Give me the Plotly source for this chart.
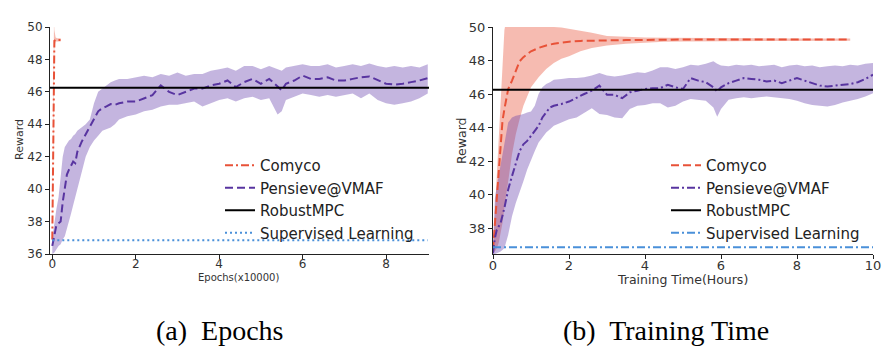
import plotly.graph_objects as go

# the page body adds an 8px margin, so the figure is drawn 16px smaller and
# every reference pixel position is shifted by that margin
W, H = 896, 356
PAD = 8
FW, FH = W - 2 * PAD, H - 2 * PAD

# ---- (a) Epochs (x10000) ----
ep_comyco_x = [0, 0.01, 0.02, 0.03, 0.04, 0.05, 0.08, 0.12, 0.16, 0.2]
ep_comyco_mean = [36.9, 39.5, 43.0, 46.5, 48.7, 49.15, 49.2, 49.2, 49.2, 49.2]
ep_comyco_upper = [37.0, 42.0, 47.0, 50.2, 50.3, 49.8, 49.35, 49.3, 49.3, 49.3]
ep_comyco_lower = [36.8, 37.5, 39.5, 43.0, 46.5, 48.8, 49.1, 49.1, 49.1, 49.1]

ep_x = [0, 0.05, 0.1, 0.15, 0.2, 0.25, 0.3, 0.35, 0.4, 0.45, 0.5, 0.55, 0.6, 0.7, 0.8,
        0.9, 1.0, 1.1, 1.2, 1.3, 1.4, 1.5, 1.6, 1.8, 2.0, 2.2, 2.4, 2.6, 2.8, 3.0, 3.2,
        3.4, 3.6, 3.8, 4.0, 4.2, 4.4, 4.6, 4.8, 5.0, 5.2, 5.4, 5.5, 5.6, 5.8, 6.0, 6.2,
        6.4, 6.6, 6.8, 7.0, 7.2, 7.4, 7.6, 7.8, 8.0, 8.2, 8.4, 8.6, 8.8, 9.0]
ep_pensieve_mean = [36.5, 37.2, 37.8, 37.9, 38.0, 39.2, 40.0, 40.9, 41.2, 41.5, 41.7, 41.6,
                    42.3, 42.9, 43.4, 43.9, 44.3, 44.8, 45.0, 45.1, 45.25, 45.2, 45.3, 45.4,
                    45.4, 45.6, 45.8, 46.4, 46.0, 45.8, 46.0, 46.2, 46.2, 46.4, 46.5, 46.7,
                    46.3, 46.6, 46.8, 46.5, 46.8, 46.3, 46.1, 46.5, 46.7, 47.0, 46.8, 46.8,
                    46.9, 46.7, 46.7, 46.8, 46.9, 46.95, 46.7, 46.5, 46.45, 46.5, 46.6, 46.7,
                    46.85]
ep_pensieve_upper = [37.0, 38.0, 38.8, 39.5, 41.0, 42.0, 42.6, 42.8, 43.0, 43.1, 43.3, 43.4,
                     43.6, 43.8, 44.0, 44.3, 45.3, 46.0, 46.2, 46.4, 46.6, 46.7, 46.8, 46.8,
                     46.9, 47.0, 46.9, 47.1, 47.0, 47.2, 47.0, 47.1, 47.1, 47.3, 47.4, 47.5,
                     47.3, 47.6, 47.6, 47.4, 47.6, 47.4, 47.3, 47.5, 47.6, 47.7, 47.6, 47.6,
                     47.7, 47.5, 47.6, 47.7, 47.6, 47.75, 47.6, 47.5, 47.6, 47.5, 47.6, 47.5,
                     47.7]
ep_pensieve_lower = [36.0, 36.1, 36.3, 36.5, 36.6, 36.9, 37.1, 37.5, 38.0, 38.5, 39.0, 39.4,
                     39.9, 41.0, 42.0, 42.6, 43.0, 43.3, 43.6, 43.7, 43.8, 44.0, 44.3, 44.5,
                     44.6, 44.8, 44.9, 45.1, 45.2, 45.2, 45.3, 45.4, 45.1, 45.3, 45.5, 45.6,
                     45.4, 45.6, 45.7, 45.5, 45.6, 44.6, 44.8, 45.5, 45.7, 45.9, 45.8, 45.7,
                     45.8, 45.7, 45.8, 45.9, 45.6, 45.9, 45.5, 45.3, 45.2, 45.3, 45.4, 45.6,
                     45.9]
ep_span = [0, 9.0]

# ---- (b) Training time (hours) ----
hr_comyco_x = [0, 0.05, 0.1, 0.15, 0.2, 0.25, 0.3, 0.35, 0.4, 0.5, 0.6, 0.7, 0.8, 0.9, 1.0,
               1.2, 1.4, 1.6, 1.8, 2.0, 2.3, 2.6, 3.0, 3.5, 4.0, 4.5, 5.0, 6.0, 7.0, 8.0, 9.0, 9.4]
hr_comyco_mean = [36.7, 38.2, 39.9, 41.3, 42.6, 44.4, 45.1, 45.8, 46.3, 46.8, 47.4, 47.95,
                  48.2, 48.4, 48.55, 48.75, 48.9, 49.0, 49.08, 49.12, 49.17, 49.2, 49.2,
                  49.22, 49.24, 49.25, 49.25, 49.25, 49.24, 49.25, 49.25, 49.25]
hr_comyco_upper = [36.8, 39.0, 41.0, 43.0, 45.5, 47.8, 49.8, 50.5, 50.8, 50.8, 50.8, 50.8,
                   50.8, 50.8, 50.7, 50.5, 50.2, 50.0, 49.97, 49.9, 49.8, 49.65, 49.46,
                   49.4, 49.38, 49.36, 49.35, 49.33, 49.32, 49.32, 49.32, 49.32]
hr_comyco_lower = [36.5, 36.6, 36.8, 37.1, 37.6, 38.3, 39.2, 40.0, 40.9, 42.4, 43.6, 44.5,
                   45.3, 45.9, 46.4, 47.0, 47.5, 47.85, 48.1, 48.25, 48.55, 48.75, 48.9,
                   49.0, 49.08, 49.12, 49.14, 49.16, 49.17, 49.18, 49.18, 49.18]

hr_x = [0, 0.05, 0.1, 0.2, 0.3, 0.4, 0.5, 0.6, 0.7, 0.8, 0.9, 1.0, 1.1, 1.2, 1.3, 1.4, 1.5,
        1.6, 1.8, 2.0, 2.2, 2.4, 2.6, 2.8, 3.0, 3.2, 3.4, 3.6, 3.8, 4.0, 4.2, 4.4, 4.6, 4.8,
        5.0, 5.2, 5.4, 5.6, 5.8, 5.9, 6.0, 6.2, 6.4, 6.6, 6.8, 7.0, 7.2, 7.4, 7.6, 7.8, 8.0,
        8.2, 8.4, 8.6, 8.8, 9.0, 9.2, 9.4, 9.6, 9.8, 10.0]
hr_pensieve_mean = [36.5, 37.4, 37.9, 38.3, 39.2, 40.3, 41.1, 41.9, 42.6, 43.0, 43.2, 43.5,
                    43.8, 44.1, 44.6, 44.9, 45.2, 45.3, 45.4, 45.55, 45.8, 46.0, 46.2, 46.5,
                    45.95, 45.95, 45.75, 46.1, 46.2, 46.3, 46.35, 46.35, 46.55, 46.4, 46.3,
                    46.95, 46.8, 46.7, 46.4, 46.15, 46.4, 46.65, 46.8, 46.95, 46.9, 46.85,
                    46.75, 46.8, 46.65, 46.8, 46.95, 46.8, 46.65, 46.5, 46.45, 46.5, 46.55,
                    46.6, 46.7, 46.9, 47.15]
hr_pensieve_upper = [37.0, 39.8, 40.5, 41.8, 43.0, 44.3, 44.6, 44.7, 44.75, 44.8, 44.9, 44.95,
                     45.3, 46.0, 46.4, 46.6, 46.7, 46.85, 46.9, 46.95, 46.95, 47.0, 47.1,
                     47.25, 47.1, 47.05, 47.1, 47.2, 47.3, 47.25, 47.4, 47.6, 47.6, 47.5,
                     47.6, 47.75, 47.7, 47.8, 47.95, 47.8, 47.7, 47.65, 47.75, 47.7, 47.75,
                     47.65, 47.7, 47.75, 47.6, 47.7, 47.75, 47.65, 47.7, 47.6, 47.65, 47.7,
                     47.65, 47.75, 47.7, 47.8, 47.85]
hr_pensieve_lower = [36.45, 36.45, 36.5, 36.6, 36.8, 37.6, 38.7, 39.5, 40.2, 40.8, 41.5, 42.1,
                     42.6, 43.1, 43.4, 43.7, 43.9, 44.1, 44.3, 44.5, 44.6, 44.9, 45.15, 44.8,
                     44.75, 44.6, 44.55, 45.1, 45.3, 45.35, 45.45, 45.45, 45.2, 45.3, 45.55,
                     45.7, 45.65, 45.6, 45.2, 44.65, 45.1, 45.65, 45.75, 45.8, 45.75, 45.8,
                     45.85, 45.8, 45.75, 45.7, 45.6, 45.45, 45.35, 45.3, 45.25, 45.35, 45.5,
                     45.6, 45.7, 45.85, 46.05]
hr_span = [0, 10.0]

robust_mpc = 46.25
supervised = 36.85

RED = "rgb(232,82,56)"
RED_FILL = "rgba(232,85,60,0.4)"
PURPLE = "rgb(88,52,160)"
PURPLE_FILL = "rgba(100,60,170,0.38)"
BLUE = "rgb(74,144,217)"
DASHDOT = "8px,3px,2px,3px"
DASH = "8px,4px"
DOT = "2px,3px"


def band(fig, x, lo, hi, color, xa, ya):
    fig.add_trace(go.Scatter(x=list(x) + list(x)[::-1], y=list(hi) + list(lo)[::-1],
                             fill="toself", fillcolor=color, line=dict(width=0),
                             mode="lines", showlegend=False, hoverinfo="skip",
                             xaxis=xa, yaxis=ya))


def line(fig, x, y, name, color, dash, width, xa, ya, legend):
    fig.add_trace(go.Scatter(x=x, y=y, name=name, mode="lines",
                             line=dict(color=color, dash=dash, width=width),
                             xaxis=xa, yaxis=ya, legend=legend))


fig = go.Figure()

# left panel
band(fig, ep_comyco_x, ep_comyco_lower, ep_comyco_upper, RED_FILL, "x", "y")
band(fig, ep_x, ep_pensieve_lower, ep_pensieve_upper, PURPLE_FILL, "x", "y")
line(fig, ep_comyco_x, ep_comyco_mean, "Comyco", RED, DASHDOT, 2, "x", "y", "legend")
line(fig, ep_x, ep_pensieve_mean, "Pensieve@VMAF", PURPLE, DASH, 2, "x", "y", "legend")
line(fig, [-0.06, 9.03], [robust_mpc] * 2, "RobustMPC", "black", "solid", 2, "x", "y", "legend")
line(fig, ep_span, [supervised] * 2, "Supervised Learning", BLUE, DOT, 2, "x", "y", "legend")

# right panel
band(fig, hr_comyco_x, hr_comyco_lower, hr_comyco_upper, RED_FILL, "x2", "y2")
band(fig, hr_x, hr_pensieve_lower, hr_pensieve_upper, PURPLE_FILL, "x2", "y2")
line(fig, hr_comyco_x, hr_comyco_mean, "Comyco", RED, DASH, 2, "x2", "y2", "legend2")
line(fig, hr_x, hr_pensieve_mean, "Pensieve@VMAF", PURPLE, DASHDOT, 2, "x2", "y2", "legend2")
line(fig, hr_span, [robust_mpc] * 2, "RobustMPC", "black", "solid", 2, "x2", "y2", "legend2")
line(fig, hr_span, [supervised] * 2, "Supervised Learning", BLUE, DASHDOT, 2, "x2", "y2", "legend2")


def px_x(p):
    return (p - PAD) / FW


def px_y(p):
    return 1 - (p - PAD) / FH


axis_common = dict(showline=True, linecolor="#222", linewidth=1, ticks="outside",
                   ticklen=4, tickcolor="#222", showgrid=False, zeroline=False,
                   automargin=False, fixedrange=True)

fig.update_layout(
    width=FW, height=FH,
    margin=dict(l=0, r=0, t=0, b=0),
    paper_bgcolor="white", plot_bgcolor="white",
    font=dict(family="DejaVu Sans", color="#333"),
    xaxis=dict(axis_common, domain=[px_x(50), px_x(429)], range=[-0.055, 9.03],
               tickvals=[0, 2, 4, 6, 8], tickfont=dict(size=12), ticklabelstandoff=-5,
               anchor="y"),
    yaxis=dict(axis_common, domain=[px_y(254), px_y(27)], range=[36, 50],
               tickvals=[36, 38, 40, 42, 44, 46, 48, 50], tickfont=dict(size=12), anchor="x"),
    xaxis2=dict(axis_common, domain=[px_x(493), px_x(873)], range=[0, 10],
                tickvals=[0, 2, 4, 6, 8, 10], tickfont=dict(size=13), ticklabelstandoff=-5,
                anchor="y2"),
    yaxis2=dict(axis_common, domain=[px_y(254), px_y(27)], range=[36.45, 50],
                tickvals=[38, 40, 42, 44, 46, 48, 50], tickfont=dict(size=13), anchor="x2"),
    legend=dict(x=px_x(220), y=px_y(149), xanchor="left", yanchor="top",
                bgcolor="rgba(0,0,0,0)", font=dict(size=15, color="#222")),
    legend2=dict(x=px_x(666), y=px_y(149), xanchor="left", yanchor="top",
                 bgcolor="rgba(0,0,0,0)", font=dict(size=15, color="#222")),
)

annotations = [
    dict(text="Reward", x=px_x(20), y=px_y(140), textangle=-90, font=dict(size=11)),
    dict(text="Epochs(x10000)", x=px_x(238), y=px_y(277), font=dict(size=10)),
    dict(text="Reward", x=px_x(462), y=px_y(140), textangle=-90, font=dict(size=12.5)),
    dict(text="Training Time(Hours)", x=px_x(682), y=px_y(279), font=dict(size=12.5)),
    dict(text="(a)  Epochs", x=px_x(220), y=px_y(330),
         font=dict(size=28, family="Liberation Serif", color="black")),
    dict(text="(b)  Training Time", x=px_x(666), y=px_y(330),
         font=dict(size=28, family="Liberation Serif", color="black")),
]
for a in annotations:
    a.update(xref="paper", yref="paper", showarrow=False, xanchor="center", yanchor="middle")
fig.update_layout(annotations=annotations)

fig.write_html("out.html")
